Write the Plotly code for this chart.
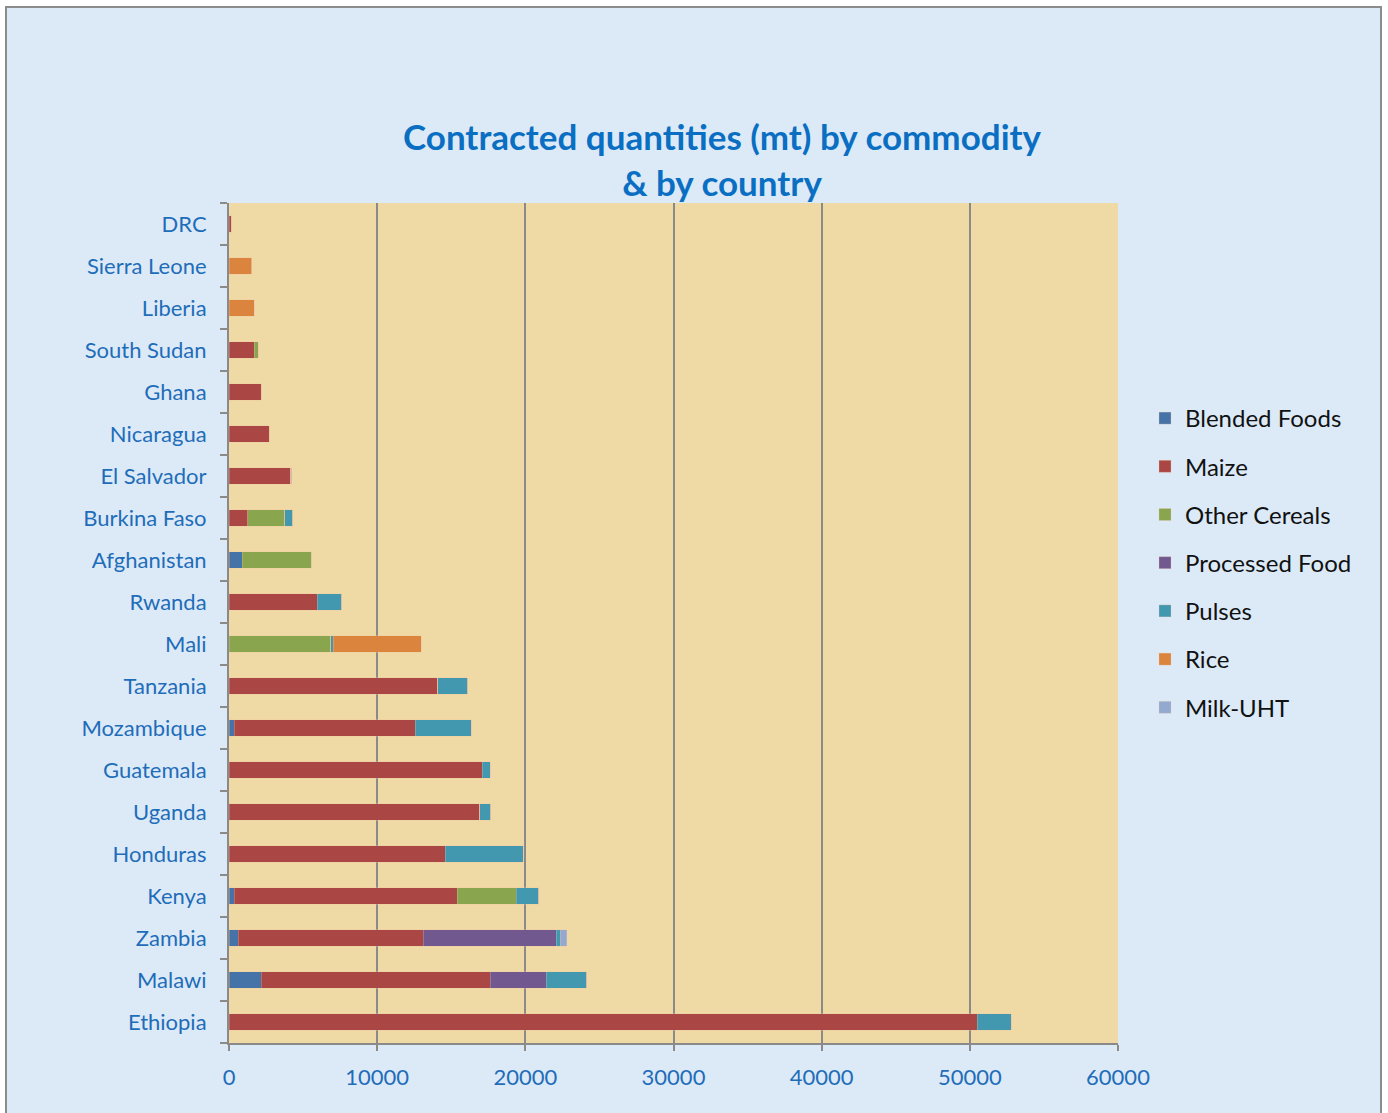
import plotly.graph_objects as go

countries = ["Ethiopia", "Malawi", "Zambia", "Kenya", "Honduras", "Uganda", "Guatemala",
             "Mozambique", "Tanzania", "Mali", "Rwanda", "Afghanistan", "Burkina Faso",
             "El Salvador", "Nicaragua", "Ghana", "South Sudan", "Liberia", "Sierra Leone", "DRC"]

blended_foods = [0, 2180, 630, 360, 0, 0, 0, 360, 0, 0, 0, 880, 0, 0, 0, 0, 0, 0, 0, 0]
maize = [50490, 15440, 12490, 15050, 14580, 16940, 17080, 12200, 14090, 0, 5940, 0, 1280,
         4180, 2700, 2160, 1690, 0, 0, 200]
other_cereals = [0, 0, 0, 3980, 0, 0, 0, 0, 0, 6860, 0, 4720, 2490, 0, 0, 0, 290, 0, 0, 0]
processed_food = [0, 3780, 8960, 0, 0, 0, 0, 0, 0, 0, 0, 0, 0, 0, 0, 0, 0, 0, 0, 0]
pulses = [2310, 2750, 290, 1510, 5270, 720, 560, 3780, 2030, 180, 1670, 0, 520, 70, 0, 0, 0, 0, 0, 0]
rice = [0, 0, 0, 0, 0, 0, 0, 0, 0, 5920, 0, 0, 0, 0, 0, 0, 0, 1690, 1550, 0]
milk_uht = [0, 0, 430, 0, 0, 0, 0, 0, 0, 0, 0, 0, 0, 0, 0, 0, 0, 0, 0, 0]

series = [
    ("Blended Foods", blended_foods, "#4572A7"),
    ("Maize", maize, "#AA4643"),
    ("Other Cereals", other_cereals, "#89A54E"),
    ("Processed Food", processed_food, "#71588F"),
    ("Pulses", pulses, "#4198AF"),
    ("Rice", rice, "#DB843D"),
    ("Milk-UHT", milk_uht, "#93A9CF"),
]

x_ticks = [0, 10000, 20000, 30000, 40000, 50000, 60000]

FONT = "Lato"
BLUE = "#1F6DB8"

fig = go.Figure()
for name, vals, color in series:
    fig.add_trace(go.Bar(
        y=countries, x=vals, name=name, orientation="h",
        marker=dict(color=color, line=dict(color="rgba(240,200,170,0.6)", width=0.5)),
        legendgroup=name,
    ))

W, H = 1388, 1113
L, R, T, B = 229, 270, 203, 70
pw, ph = W - L - R, H - T - B

def px_x(p):
    return (p - L) / pw

def px_y(p):
    return (H - B - p) / ph

fig.update_layout(
    width=W, height=H,
    margin=dict(l=L, r=R, t=T, b=B, pad=0),
    barmode="stack",
    bargap=0.6,
    paper_bgcolor="white",
    plot_bgcolor="rgba(0,0,0,0)",
    font=dict(family=FONT, color=BLUE),
    title=dict(
        text="Contracted quantities (mt) by commodity<br>& by country",
        font=dict(family=FONT, size=35, color="#0A6FC2", weight="bold"),
        x=722 / W, xanchor="center", xref="container",
        y=1 - 150 / H, yanchor="middle", yref="container",
    ),
    xaxis=dict(
        range=[0, 60000], tickvals=x_ticks, ticktext=[str(v) for v in x_ticks],
        showgrid=True, gridcolor="#8A8A8A", gridwidth=2,
        showline=True, linecolor="#8A8A8A", linewidth=2,
        ticks="outside", ticklen=6, tickcolor="#8A8A8A", tickwidth=1.5,
        tickfont=dict(size=22, color=BLUE, family=FONT),
        ticklabelstandoff=8,
        zeroline=False, fixedrange=True,
    ),
    yaxis=dict(
        categoryorder="array", categoryarray=countries,
        showline=True, linecolor="#8A8A8A", linewidth=2,
        ticks="outside", ticklen=7, tickcolor="#8A8A8A", tickwidth=1.5,
        tickson="boundaries",
        tickfont=dict(size=22, color=BLUE, family=FONT),
        ticklabelstandoff=16,
        showgrid=False, zeroline=False, fixedrange=True,
    ),
    legend=dict(
        x=px_x(1145), xanchor="left", y=px_y(396), yanchor="top",
        font=dict(size=24, color="#111111", family=FONT),
        traceorder="grouped", tracegroupgap=14,
        bgcolor="rgba(0,0,0,0)", itemwidth=30,
    ),
    shapes=[
        dict(type="rect", xref="paper", yref="paper", layer="below",
             x0=px_x(6), x1=px_x(1381), y0=px_y(1125), y1=px_y(7),
             fillcolor="#DCEAF8", line=dict(color="#8C8C8C", width=2)),
        dict(type="rect", xref="paper", yref="paper", layer="below",
             x0=0, x1=1, y0=0, y1=1,
             fillcolor="#EFD9A4", line=dict(width=0)),
    ],
)

fig.write_html("out.html", config={"displayModeBar": False},
               post_script="document.body.style.margin='0';")
